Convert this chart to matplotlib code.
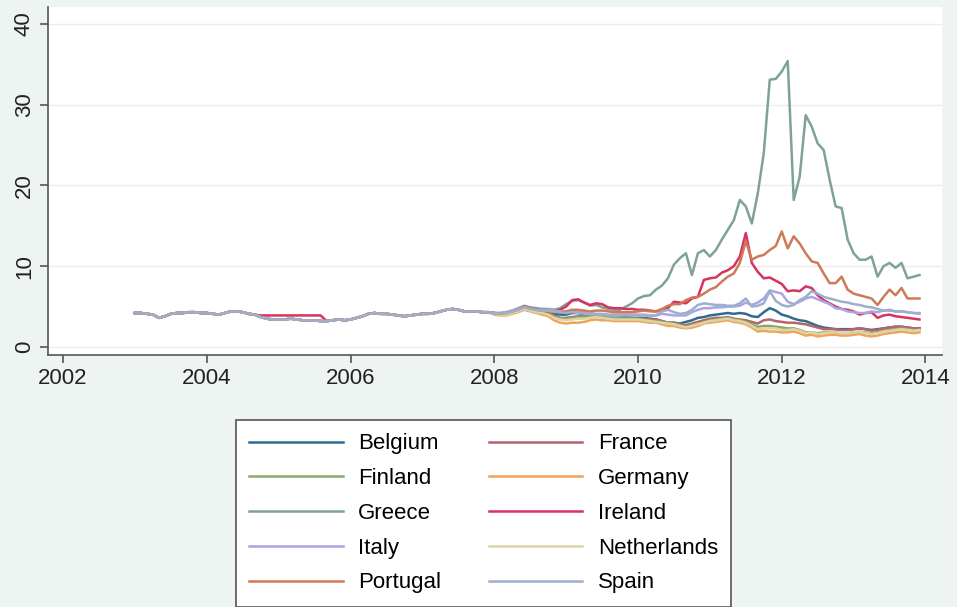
import matplotlib.pyplot as plt
import numpy as np

plt.rcParams['font.family'] = ['Liberation Sans', 'DejaVu Sans']

# monthly observations, Jan 2003 .. Dec 2013
start_year = 2003

# 2003-2007: all series move together
pre_base = [4.2, 4.2, 4.1, 4.0, 3.6, 3.8, 4.1, 4.2, 4.2, 4.3, 4.3, 4.2,
            4.2, 4.1, 4.0, 4.2, 4.4, 4.4, 4.3, 4.1, 4.0, 3.7, 3.5, 3.4,
            3.4, 3.4, 3.5, 3.4, 3.3, 3.3, 3.3, 3.2, 3.2, 3.3, 3.4, 3.3,
            3.4, 3.6, 3.8, 4.1, 4.2, 4.1, 4.1, 4.0, 3.9, 3.8, 3.9, 4.0,
            4.1, 4.1, 4.2, 4.4, 4.6, 4.7, 4.6, 4.4, 4.4, 4.4, 4.3, 4.3]
ireland_pre = [4.2, 4.2, 4.1, 4.0, 3.6, 3.8, 4.1, 4.2, 4.2, 4.3, 4.3, 4.2,
               4.2, 4.1, 4.0, 4.2, 4.4, 4.4, 4.3, 4.1, 4.0, 3.9, 3.9, 3.9,
               3.9, 3.9, 3.9, 3.9, 3.9, 3.9, 3.9, 3.9, 3.2, 3.3, 3.4, 3.3,
               3.4, 3.6, 3.8, 4.1, 4.2, 4.1, 4.1, 4.0, 3.9, 3.8, 3.9, 4.0,
               4.1, 4.1, 4.2, 4.4, 4.6, 4.7, 4.6, 4.4, 4.4, 4.4, 4.3, 4.3]

# 2008-2013
belgium = [4.2, 4.1, 4.1, 4.3, 4.5, 4.8, 4.6, 4.5, 4.4, 4.3, 4.1, 4.0,
           4.0, 4.2, 4.2, 4.0, 3.9, 3.9, 3.8, 3.7, 3.6, 3.6, 3.7, 3.6,
           3.6, 3.6, 3.5, 3.4, 3.2, 3.0, 3.0, 2.9, 3.1, 3.3, 3.6, 3.7,
           3.9, 4.0, 4.1, 4.2, 4.1, 4.2, 4.1, 3.8, 3.7, 4.3, 4.8, 4.5,
           4.0, 3.8, 3.5, 3.3, 3.2, 2.9, 2.6, 2.4, 2.3, 2.2, 2.2, 2.2,
           2.2, 2.3, 2.2, 2.1, 2.2, 2.3, 2.4, 2.5, 2.5, 2.4, 2.3, 2.3]
france = [4.1, 4.0, 4.1, 4.3, 4.5, 4.8, 4.6, 4.4, 4.3, 4.2, 3.9, 3.6,
          3.6, 3.7, 3.8, 3.8, 3.9, 3.9, 3.8, 3.7, 3.6, 3.6, 3.6, 3.5,
          3.5, 3.5, 3.4, 3.4, 3.2, 3.0, 3.0, 2.8, 2.7, 2.9, 3.1, 3.3,
          3.5, 3.6, 3.6, 3.7, 3.5, 3.4, 3.3, 3.1, 2.9, 3.3, 3.4, 3.2,
          3.1, 3.0, 3.0, 2.9, 2.8, 2.6, 2.4, 2.2, 2.2, 2.2, 2.1, 2.1,
          2.2, 2.3, 2.2, 2.0, 2.1, 2.3, 2.4, 2.5, 2.5, 2.4, 2.3, 2.3]
finland = [4.1, 4.0, 4.1, 4.3, 4.4, 4.8, 4.6, 4.4, 4.3, 4.1, 3.7, 3.5,
           3.5, 3.6, 3.7, 3.7, 3.8, 3.8, 3.7, 3.6, 3.6, 3.5, 3.5, 3.5,
           3.5, 3.4, 3.3, 3.2, 3.1, 3.0, 2.9, 2.7, 2.5, 2.7, 2.9, 3.1,
           3.3, 3.4, 3.5, 3.6, 3.4, 3.3, 3.1, 2.8, 2.5, 2.6, 2.6, 2.5,
           2.4, 2.3, 2.3, 2.1, 1.8, 1.8, 1.7, 1.8, 1.8, 1.8, 1.7, 1.7,
           1.8, 1.9, 1.8, 1.7, 1.8, 2.0, 2.1, 2.2, 2.3, 2.2, 2.1, 2.1]
germany = [4.0, 3.9, 3.9, 4.1, 4.3, 4.6, 4.4, 4.2, 4.0, 3.8, 3.3, 3.0,
           2.9, 3.0, 3.0, 3.1, 3.3, 3.4, 3.3, 3.3, 3.2, 3.2, 3.2, 3.2,
           3.2, 3.1, 3.0, 3.0, 2.8, 2.6, 2.6, 2.4, 2.3, 2.4, 2.6, 2.9,
           3.0, 3.1, 3.2, 3.3, 3.1, 3.0, 2.8, 2.4, 1.9, 2.0, 1.9, 1.9,
           1.8, 1.8, 1.9, 1.7, 1.4, 1.5, 1.3, 1.4, 1.5, 1.5, 1.4, 1.4,
           1.5, 1.6, 1.4, 1.3, 1.4, 1.6, 1.7, 1.8, 1.9, 1.8, 1.7, 1.8]
greece = [4.2, 4.2, 4.3, 4.5, 4.8, 5.1, 4.9, 4.8, 4.7, 4.7, 4.6, 4.8,
          5.3, 5.7, 5.8, 5.5, 5.1, 5.2, 4.9, 4.7, 4.6, 4.6, 5.0, 5.4,
          6.0, 6.3, 6.4, 7.1, 7.6, 8.5, 10.2, 11.0, 11.6, 8.9, 11.6, 12.0,
          11.2, 12.0, 13.3, 14.5, 15.7, 18.2, 17.4, 15.3, 19.0, 24.0, 33.1, 33.2,
          34.1, 35.4, 18.2, 21.1, 28.7, 27.3, 25.2, 24.4, 20.7, 17.4, 17.2, 13.3,
          11.6, 10.8, 10.8, 11.2, 8.7, 10.0, 10.4, 9.8, 10.4, 8.5, 8.7, 8.9]
ireland = [4.2, 4.1, 4.2, 4.4, 4.6, 5.0, 4.8, 4.6, 4.5, 4.4, 4.4, 4.6,
           5.0, 5.8, 5.9, 5.5, 5.2, 5.4, 5.3, 4.9, 4.8, 4.8, 4.7, 4.7,
           4.6, 4.6, 4.5, 4.4, 4.6, 4.8, 5.6, 5.5, 5.4, 6.0, 6.2, 8.3,
           8.5, 8.6, 9.2, 9.5, 10.0, 11.2, 14.1, 10.4, 9.3, 8.5, 8.6, 8.2,
           7.8, 6.9, 7.0, 6.9, 7.5, 7.3, 6.4, 5.8, 5.4, 5.0, 4.7, 4.6,
           4.4, 4.0, 4.2, 4.3, 3.6, 3.9, 4.0, 3.8, 3.7, 3.6, 3.5, 3.4]
italy = [4.2, 4.2, 4.3, 4.5, 4.7, 5.0, 4.8, 4.6, 4.5, 4.6, 4.5, 4.4,
         4.4, 4.5, 4.4, 4.3, 4.2, 4.1, 4.1, 4.0, 4.0, 4.0, 4.0, 4.0,
         4.0, 4.0, 3.9, 3.9, 4.1, 4.0, 3.9, 3.9, 3.9, 4.3, 4.6, 4.8,
         4.8, 4.9, 4.9, 5.0, 5.0, 5.1, 5.5, 5.2, 5.5, 6.0, 7.0, 6.8,
         6.6, 5.6, 5.3, 5.6, 6.0, 6.2, 5.9, 5.6, 5.3, 4.8, 4.7, 4.4,
         4.3, 4.2, 4.2, 4.4, 4.3, 4.5, 4.6, 4.4, 4.4, 4.3, 4.2, 4.1]
netherlands = [4.1, 4.0, 4.0, 4.2, 4.4, 4.7, 4.5, 4.3, 4.2, 4.0, 3.6, 3.4,
               3.3, 3.4, 3.5, 3.5, 3.6, 3.7, 3.6, 3.5, 3.4, 3.4, 3.4, 3.4,
               3.4, 3.3, 3.2, 3.1, 3.0, 2.9, 2.8, 2.6, 2.4, 2.6, 2.8, 3.0,
               3.2, 3.3, 3.4, 3.5, 3.3, 3.2, 3.0, 2.6, 2.2, 2.3, 2.3, 2.3,
               2.1, 2.1, 2.2, 2.0, 1.7, 1.8, 1.6, 1.7, 1.8, 1.8, 1.7, 1.7,
               1.8, 1.9, 1.7, 1.6, 1.7, 1.9, 2.0, 2.1, 2.2, 2.1, 2.0, 2.1]
portugal = [4.2, 4.1, 4.2, 4.4, 4.6, 5.0, 4.8, 4.6, 4.5, 4.4, 4.3, 4.3,
            4.4, 4.6, 4.6, 4.5, 4.4, 4.5, 4.5, 4.4, 4.3, 4.3, 4.3, 4.3,
            4.4, 4.5, 4.4, 4.4, 4.7, 5.1, 5.3, 5.3, 5.8, 6.1, 6.2, 6.6,
            7.1, 7.4, 8.1, 8.7, 9.1, 10.4, 13.1, 10.8, 11.2, 11.4, 12.0, 12.5,
            14.3, 12.2, 13.7, 12.8, 11.6, 10.6, 10.4, 9.1, 7.9, 7.9, 8.7, 7.1,
            6.6, 6.4, 6.2, 6.0, 5.2, 6.2, 7.1, 6.4, 7.3, 6.0, 6.0, 6.0]
spain = [4.2, 4.1, 4.2, 4.4, 4.6, 4.9, 4.7, 4.6, 4.5, 4.5, 4.4, 4.3,
         4.2, 4.3, 4.2, 4.1, 4.1, 4.0, 4.0, 3.9, 3.9, 3.9, 3.9, 3.9,
         3.9, 3.9, 3.8, 3.9, 4.4, 4.6, 4.3, 4.1, 4.2, 4.6, 5.2, 5.4,
         5.3, 5.2, 5.2, 5.1, 5.1, 5.4, 6.0, 5.0, 5.1, 5.4, 6.9, 5.7,
         5.2, 5.0, 5.2, 5.8, 6.2, 6.9, 6.6, 6.2, 6.0, 5.8, 5.6, 5.5,
         5.3, 5.2, 5.0, 4.9, 4.7, 4.5, 4.5, 4.4, 4.4, 4.3, 4.2, 4.2]

countries = ['Belgium', 'France', 'Finland', 'Germany', 'Greece',
             'Ireland', 'Italy', 'Netherlands', 'Portugal', 'Spain']
series = {
    'Belgium': pre_base + belgium,
    'France': pre_base + france,
    'Finland': pre_base + finland,
    'Germany': pre_base + germany,
    'Greece': pre_base + greece,
    'Ireland': ireland_pre + ireland,
    'Italy': pre_base + italy,
    'Netherlands': pre_base + netherlands,
    'Portugal': pre_base + portugal,
    'Spain': pre_base + spain,
}
colors = {
    'Belgium': '#2f6b8f', 'France': '#b5646c', 'Finland': '#88aa66',
    'Germany': '#f0a458', 'Greece': '#7fa298', 'Ireland': '#d8325e',
    'Italy': '#aaa4e4', 'Netherlands': '#ddd3a8', 'Portugal': '#cc7a58',
    'Spain': '#9cb0cc',
}

bg = '#edf4f2'
fig = plt.figure(figsize=(9.57, 6.07), dpi=100, facecolor=bg)
ax = fig.add_axes([48 / 957, 1 - 355 / 607, 894 / 957, 348 / 607])
ax.set_facecolor('white')

n = len(pre_base) + len(belgium)
t = start_year + np.arange(n) / 12

lines = {}
for c in countries:
    lines[c], = ax.plot(t, series[c], color=colors[c], lw=1.8, label=c)

ax.set_xlim(2001.79, 2014.23)
ax.set_ylim(-1, 42.1)
ax.set_xticks(range(2002, 2015, 2))
ax.set_yticks(range(0, 41, 10))
ax.grid(axis='y', color='#ececec', lw=1)
ax.set_axisbelow(True)
for s in ['top', 'right']:
    ax.spines[s].set_visible(False)
for s in ['left', 'bottom']:
    ax.spines[s].set_color('#555555')
    ax.spines[s].set_linewidth(1.2)
ax.tick_params(colors='#555555', length=6, width=1.2, labelsize=16,
               labelcolor='#222222')
plt.setp(ax.get_yticklabels(), rotation=90, va='center')

order = ['Belgium', 'Finland', 'Greece', 'Italy', 'Portugal',
         'France', 'Germany', 'Ireland', 'Netherlands', 'Spain']
leg = fig.legend([lines[c] for c in order], order, ncol=2,
                 loc='upper left', bbox_to_anchor=(236 / 957, 1 - 420 / 607),
                 borderaxespad=0, fontsize=16, handlelength=4.2,
                 handletextpad=0.7, columnspacing=2.15, labelspacing=0.62,
                 fancybox=False, edgecolor='#555555', framealpha=1,
                 borderpad=0.6)
leg.get_frame().set_linewidth(1.2)

fig.savefig('out.png', dpi=100, facecolor=bg)
